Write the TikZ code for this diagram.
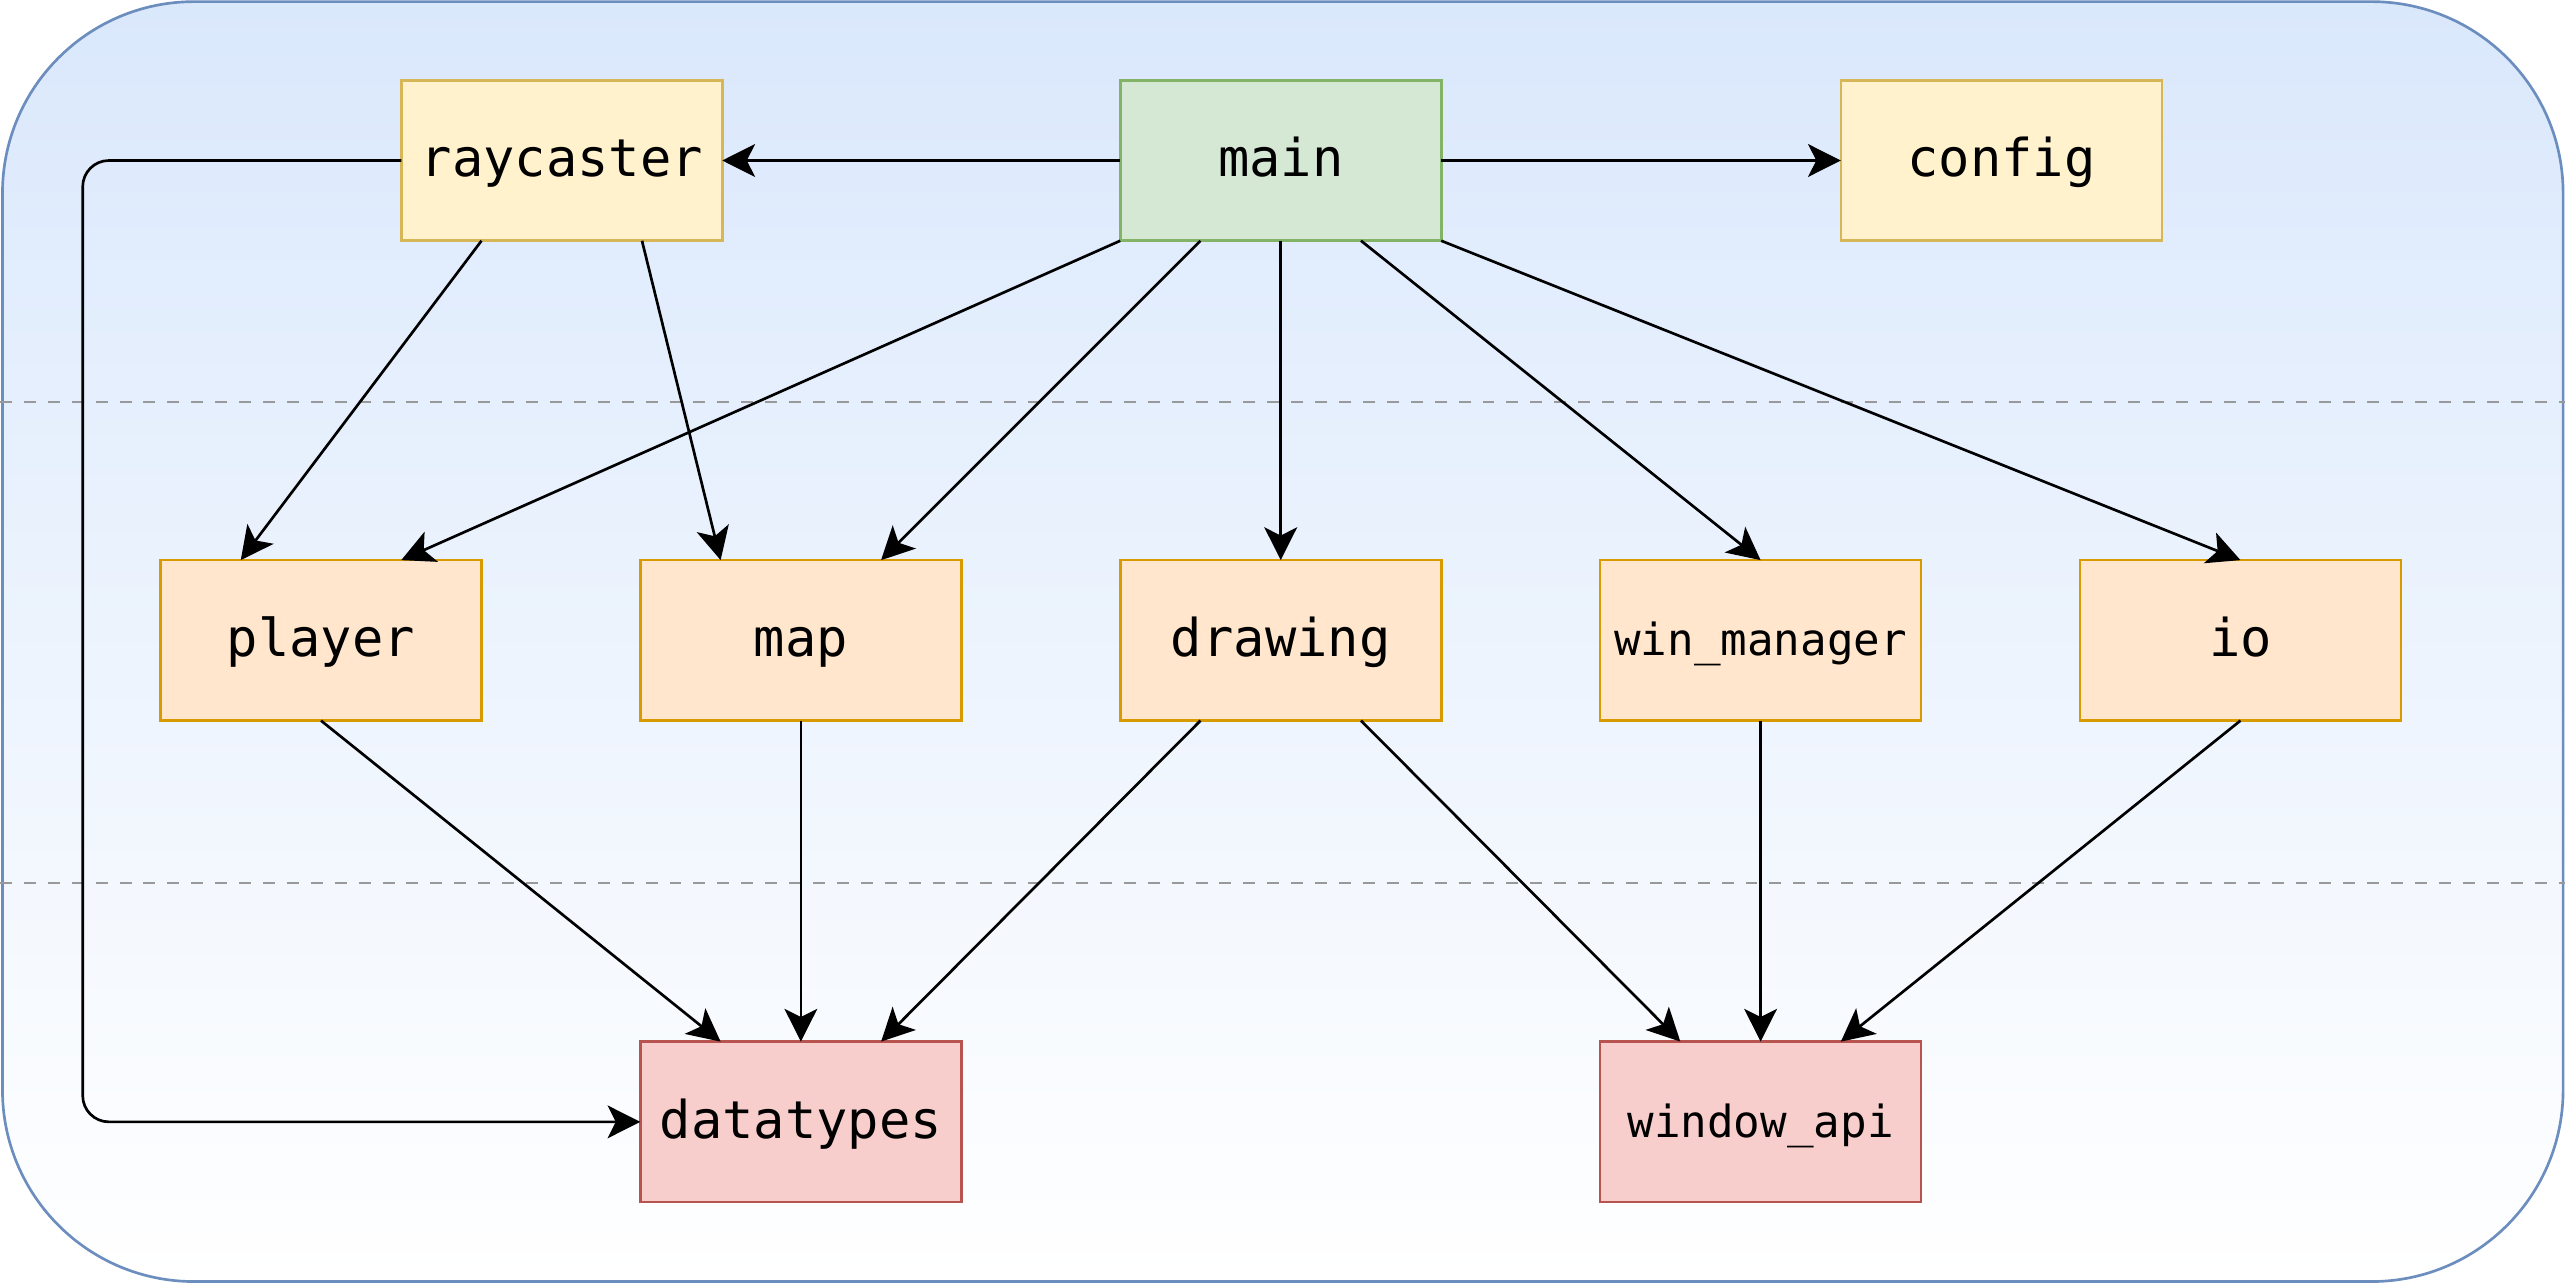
\documentclass[tikz,border=0pt]{standalone}
\usepackage{fontspec}
\newfontfamily\codefont{DejaVu Sans Mono}
\usetikzlibrary{arrows.meta,calc}

\definecolor{frameline}{HTML}{6C8EBF}
\definecolor{framefill}{HTML}{DAE8FC}
\definecolor{yelfill}{HTML}{FFF2CC}
\definecolor{yelline}{HTML}{D6B656}
\definecolor{grnfill}{HTML}{D5E8D4}
\definecolor{grnline}{HTML}{82B366}
\definecolor{orgfill}{HTML}{FFE6CC}
\definecolor{orgline}{HTML}{D79B00}
\definecolor{redfill}{HTML}{F8CECC}
\definecolor{redline}{HTML}{B85450}
\definecolor{sepline}{HTML}{999999}

\tikzset{
  module/.style={rectangle, minimum width=196pt, minimum height=98pt,
    inner sep=0pt, outer sep=0pt, line width=1.63pt,
    text height=20pt, text depth=0pt,
    font=\codefont\fontsize{31.8}{32}\selectfont},
  small/.style={font=\codefont\fontsize{27}{28}\selectfont,
    text height=19pt, text depth=0pt},
  toplevel/.style={module, fill=grnfill, draw=grnline},
  support/.style={module, fill=yelfill, draw=yelline},
  midlevel/.style={module, fill=orgfill, draw=orgline},
  lowlevel/.style={module, fill=redfill, draw=redline},
  dep/.style={line width=1.63pt, black,
    -{Stealth[length=20pt, width=20pt, inset=5pt]}},
  layersep/.style={sepline, line width=1.2pt, dash pattern=on 7.3pt off 7.3pt},
}

\begin{document}
\begin{tikzpicture}[x=1pt, y=-1pt]
  \useasboundingbox (0,0) rectangle (1568,784);

  % outer container with vertical gradient
  \draw[line width=1.63pt, draw=frameline, top color=framefill, bottom color=white,
        rounded corners=117pt] (1.5,1) rectangle (1565,782.5);

  % layer separators
  \draw[layersep] (0,245.5) -- (1566,245.5);
  \draw[layersep] (0,539) -- (1566,539);

  % top layer
  \node[support]  (raycaster) at (343,98)  {raycaster};
  \node[toplevel] (main)      at (782,98)  {main};
  \node[support]  (config)    at (1222,98) {config};

  % middle layer
  \node[midlevel]        (player)      at (196,391)  {player};
  \node[midlevel]        (map)         at (489,391)  {map};
  \node[midlevel]        (drawing)     at (782,391)  {drawing};
  \node[midlevel, small] (win_manager) at (1075,391) {win\_manager};
  \node[midlevel]        (io)          at (1368,391) {io};

  % bottom layer
  \node[lowlevel]        (datatypes)  at (489,685)  {datatypes};
  \node[lowlevel, small] (window_api) at (1075,685) {window\_api};

  % bend column for the raycaster -> datatypes route
  \coordinate (busx) at (50.5,0);

  % dependencies of main
  \draw[dep] (main.west) -- (raycaster.east);
  \draw[dep] (main.east) -- (config.west);
  \draw[dep] (main.south west) -- ($(player.north west)!0.75!(player.north east)$);
  \draw[dep] ($(main.south west)!0.25!(main.south east)$) -- ($(map.north west)!0.75!(map.north east)$);
  \draw[dep] (main.south) -- (drawing.north);
  \draw[dep] ($(main.south west)!0.75!(main.south east)$) -- (win_manager.north);
  \draw[dep] (main.south east) -- (io.north);

  % dependencies of raycaster
  \draw[dep] ($(raycaster.south west)!0.25!(raycaster.south east)$) -- ($(player.north west)!0.25!(player.north east)$);
  \draw[dep] ($(raycaster.south west)!0.75!(raycaster.south east)$) -- ($(map.north west)!0.25!(map.north east)$);
  \draw[dep, rounded corners=16pt] (raycaster.west) -- (raycaster.west -| busx)
        -- (datatypes.west -| busx) -- (datatypes.west);

  % middle layer -> bottom layer
  \draw[dep] (player.south) -- ($(datatypes.north west)!0.25!(datatypes.north east)$);
  \draw[dep] (map.south) -- (datatypes.north);
  \draw[dep] ($(drawing.south west)!0.25!(drawing.south east)$) -- ($(datatypes.north west)!0.75!(datatypes.north east)$);
  \draw[dep] ($(drawing.south west)!0.75!(drawing.south east)$) -- ($(window_api.north west)!0.25!(window_api.north east)$);
  \draw[dep] (win_manager.south) -- (window_api.north);
  \draw[dep] (io.south) -- ($(window_api.north west)!0.75!(window_api.north east)$);
\end{tikzpicture}
\end{document}
